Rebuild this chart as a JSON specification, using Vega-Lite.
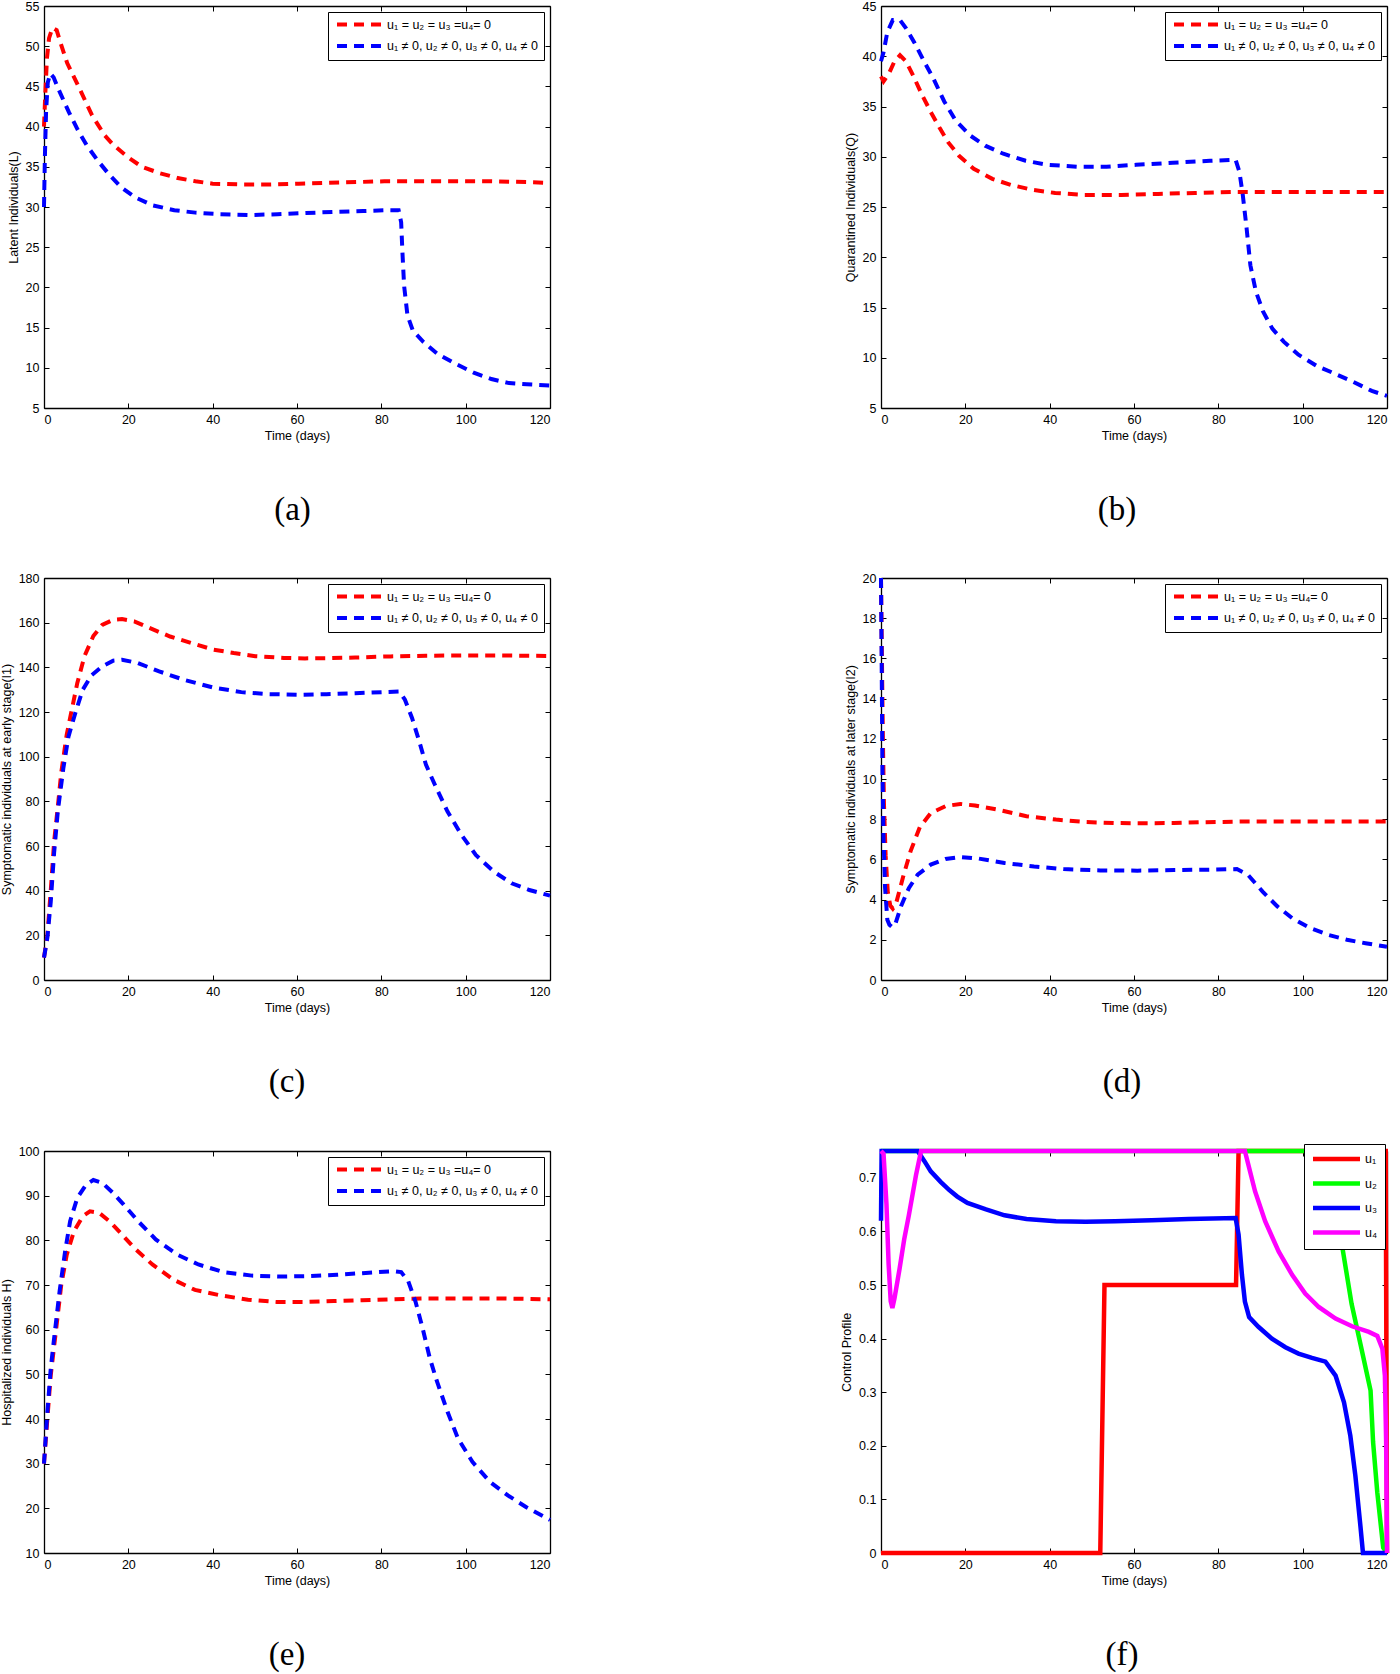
{
"$schema": "https://vega.github.io/schema/vega-lite/v6.json",
"padding": {"left": 0, "top": 0, "right": 5, "bottom": 2},
"columns": 2,
"spacing": {"row": 43, "column": 282},
"resolve": {"scale": {"color": "independent"}, "legend": {"color": "independent"}},
"config": {
  "font": "Liberation Sans",
  "view": {"stroke": null},
  "axis": {"grid": false, "domainColor": "black", "domainWidth": 1.3, "tickColor": "black", "tickSize": -5, "tickWidth": 1, "labelFont": "Liberation Sans", "labelFontSize": 12.5, "labelColor": "black", "labelPadding": 10, "titleFont": "Liberation Sans", "titleFontSize": 12.5, "titleFontWeight": "normal", "titleColor": "black"},
  "axisX": {"titlePadding": 4},
  "axisY": {"titlePadding": 5},
  "legend": {"labelFont": "Liberation Sans", "labelFontSize": 12.5, "labelColor": "black", "strokeColor": "black", "fillColor": "white"},
  "title": {"font": "Liberation Serif", "fontSize": 33, "fontWeight": "normal", "color": "black"}
},
"datasets": {
"L": [
{"t":0,"s":"off","v":40},{"t":0.3,"s":"off","v":44},{"t":0.7,"s":"off","v":48.5},{"t":1.2,"s":"off","v":51},{"t":2,"s":"off","v":52.3},{"t":3,"s":"off","v":52},{"t":4,"s":"off","v":50.3},{"t":5.5,"s":"off","v":47.9},{"t":8,"s":"off","v":45.2},{"t":11.4,"s":"off","v":41.4},{"t":14.4,"s":"off","v":38.9},{"t":16.5,"s":"off","v":37.7},{"t":19.9,"s":"off","v":36.2},{"t":23.2,"s":"off","v":35.0},{"t":27.5,"s":"off","v":34.2},{"t":31.7,"s":"off","v":33.6},{"t":35.9,"s":"off","v":33.2},{"t":40,"s":"off","v":32.9},{"t":46.9,"s":"off","v":32.8},{"t":53.7,"s":"off","v":32.8},{"t":60.4,"s":"off","v":32.9},{"t":67.2,"s":"off","v":33.0},{"t":74,"s":"off","v":33.1},{"t":80.7,"s":"off","v":33.2},{"t":89.2,"s":"off","v":33.2},{"t":97.6,"s":"off","v":33.2},{"t":106,"s":"off","v":33.2},{"t":114.5,"s":"off","v":33.1},{"t":120,"s":"off","v":33.0},
{"t":0,"s":"on","v":30},{"t":0.2,"s":"on","v":36},{"t":0.5,"s":"on","v":42},{"t":0.9,"s":"on","v":45.5},{"t":1.5,"s":"on","v":46.6},{"t":2.3,"s":"on","v":46.1},{"t":3.4,"s":"on","v":44.7},{"t":5.9,"s":"on","v":41.8},{"t":8,"s":"on","v":39.6},{"t":10.1,"s":"on","v":37.7},{"t":12.7,"s":"on","v":35.8},{"t":15.2,"s":"on","v":34.2},{"t":18.2,"s":"on","v":32.5},{"t":21.6,"s":"on","v":31.2},{"t":25.8,"s":"on","v":30.2},{"t":30.9,"s":"on","v":29.6},{"t":35.9,"s":"on","v":29.3},{"t":41.8,"s":"on","v":29.1},{"t":48.6,"s":"on","v":29.0},{"t":55.4,"s":"on","v":29.1},{"t":62.1,"s":"on","v":29.25},{"t":68.9,"s":"on","v":29.4},{"t":75.7,"s":"on","v":29.5},{"t":81.6,"s":"on","v":29.6},{"t":84.1,"s":"on","v":29.6},{"t":84.7,"s":"on","v":28.1},{"t":85,"s":"on","v":24.4},{"t":85.4,"s":"on","v":20.2},{"t":86.2,"s":"on","v":16.5},{"t":87.5,"s":"on","v":14.6},{"t":90,"s":"on","v":13.2},{"t":93.4,"s":"on","v":11.7},{"t":97.6,"s":"on","v":10.5},{"t":101.9,"s":"on","v":9.4},{"t":106.1,"s":"on","v":8.6},{"t":110.3,"s":"on","v":8.1},{"t":114.5,"s":"on","v":7.95},{"t":120,"s":"on","v":7.8}
],
"Q": [
{"t":0,"s":"off","v":38},{"t":0.6,"s":"off","v":37.5},{"t":1.9,"s":"off","v":38.3},{"t":3.2,"s":"off","v":39.5},{"t":4.5,"s":"off","v":40.1},{"t":5.9,"s":"off","v":39.5},{"t":7.6,"s":"off","v":38.1},{"t":9.8,"s":"off","v":36.1},{"t":12,"s":"off","v":34.3},{"t":14,"s":"off","v":32.8},{"t":16,"s":"off","v":31.4},{"t":18.5,"s":"off","v":30.1},{"t":22,"s":"off","v":28.8},{"t":26.4,"s":"off","v":27.8},{"t":30.8,"s":"off","v":27.2},{"t":36,"s":"off","v":26.7},{"t":41.3,"s":"off","v":26.4},{"t":48.3,"s":"off","v":26.2},{"t":57,"s":"off","v":26.2},{"t":65.7,"s":"off","v":26.3},{"t":74.5,"s":"off","v":26.4},{"t":83.2,"s":"off","v":26.5},{"t":92,"s":"off","v":26.5},{"t":100.7,"s":"off","v":26.5},{"t":109.5,"s":"off","v":26.5},{"t":120,"s":"off","v":26.5},
{"t":0,"s":"on","v":39.5},{"t":0.6,"s":"on","v":40.4},{"t":1.5,"s":"on","v":42.4},{"t":2.8,"s":"on","v":43.6},{"t":4.5,"s":"on","v":43.6},{"t":5.9,"s":"on","v":42.8},{"t":8,"s":"on","v":41.3},{"t":10.2,"s":"on","v":39.5},{"t":12.4,"s":"on","v":37.8},{"t":15,"s":"on","v":35.5},{"t":17.7,"s":"on","v":33.6},{"t":21.2,"s":"on","v":32.1},{"t":24.7,"s":"on","v":31.1},{"t":29,"s":"on","v":30.3},{"t":34.3,"s":"on","v":29.6},{"t":39.5,"s":"on","v":29.2},{"t":46.5,"s":"on","v":29.0},{"t":53.5,"s":"on","v":29.0},{"t":60.5,"s":"on","v":29.2},{"t":69.2,"s":"on","v":29.4},{"t":78,"s":"on","v":29.6},{"t":84.1,"s":"on","v":29.7},{"t":85,"s":"on","v":28.5},{"t":85.8,"s":"on","v":26.2},{"t":86.7,"s":"on","v":22.9},{"t":87.6,"s":"on","v":19.2},{"t":88.9,"s":"on","v":16.6},{"t":90.6,"s":"on","v":14.6},{"t":92.8,"s":"on","v":12.9},{"t":95.5,"s":"on","v":11.6},{"t":99,"s":"on","v":10.3},{"t":103.3,"s":"on","v":9.2},{"t":107.7,"s":"on","v":8.4},{"t":112,"s":"on","v":7.6},{"t":116.4,"s":"on","v":6.7},{"t":120,"s":"on","v":6.2}
],
"I1": [
{"t":0,"s":"off","v":10},{"t":0.8,"s":"off","v":20},{"t":1.6,"s":"off","v":40},{"t":2.4,"s":"off","v":62},{"t":3.3,"s":"off","v":78},{"t":4.1,"s":"off","v":93},{"t":5.4,"s":"off","v":110},{"t":6.7,"s":"off","v":122},{"t":7.9,"s":"off","v":133},{"t":9.6,"s":"off","v":145},{"t":11.7,"s":"off","v":154},{"t":13.8,"s":"off","v":159},{"t":16.4,"s":"off","v":161.3},{"t":18.5,"s":"off","v":161.6},{"t":21.4,"s":"off","v":160.6},{"t":24.8,"s":"off","v":157.8},{"t":29.9,"s":"off","v":153.8},{"t":34.9,"s":"off","v":150.9},{"t":40,"s":"off","v":148},{"t":45,"s":"off","v":146.4},{"t":50.1,"s":"off","v":145},{"t":56.9,"s":"off","v":144.2},{"t":61.9,"s":"off","v":144},{"t":67,"s":"off","v":144.1},{"t":73.8,"s":"off","v":144.4},{"t":82.2,"s":"off","v":144.9},{"t":90.6,"s":"off","v":145.2},{"t":99,"s":"off","v":145.3},{"t":107.5,"s":"off","v":145.3},{"t":120,"s":"off","v":145.1},
{"t":0,"s":"on","v":10},{"t":0.8,"s":"on","v":19},{"t":1.6,"s":"on","v":35},{"t":2.4,"s":"on","v":57},{"t":3.3,"s":"on","v":76},{"t":4.6,"s":"on","v":95},{"t":5.8,"s":"on","v":109},{"t":7.5,"s":"on","v":120},{"t":9.2,"s":"on","v":130},{"t":11.3,"s":"on","v":136.5},{"t":13.8,"s":"on","v":140.4},{"t":16.4,"s":"on","v":143},{"t":18.5,"s":"on","v":143.4},{"t":22.3,"s":"on","v":141.9},{"t":27.3,"s":"on","v":138.2},{"t":33.2,"s":"on","v":134.4},{"t":40,"s":"on","v":131},{"t":46.8,"s":"on","v":128.9},{"t":53.5,"s":"on","v":128},{"t":60.3,"s":"on","v":127.7},{"t":67,"s":"on","v":128},{"t":73.8,"s":"on","v":128.4},{"t":80.5,"s":"on","v":128.9},{"t":84.3,"s":"on","v":129.2},{"t":85.6,"s":"on","v":125.5},{"t":87.3,"s":"on","v":117.2},{"t":89,"s":"on","v":106.8},{"t":90.6,"s":"on","v":96.3},{"t":92.7,"s":"on","v":87.4},{"t":95.7,"s":"on","v":75.4},{"t":99,"s":"on","v":65},{"t":102.4,"s":"on","v":56},{"t":106.7,"s":"on","v":48.5},{"t":110.9,"s":"on","v":43.3},{"t":115.1,"s":"on","v":40.3},{"t":120,"s":"on","v":37.8}
],
"I2": [
{"t":0,"s":"off","v":20},{"t":0.25,"s":"off","v":15.5},{"t":0.45,"s":"off","v":12},{"t":0.7,"s":"off","v":8.8},{"t":1.1,"s":"off","v":6.2},{"t":1.6,"s":"off","v":4.4},{"t":2.2,"s":"off","v":3.7},{"t":2.8,"s":"off","v":3.55},{"t":3.5,"s":"off","v":3.75},{"t":4.2,"s":"off","v":4.3},{"t":5.2,"s":"off","v":5.1},{"t":7,"s":"off","v":6.4},{"t":9.2,"s":"off","v":7.6},{"t":11.8,"s":"off","v":8.3},{"t":15.3,"s":"off","v":8.65},{"t":18.8,"s":"off","v":8.76},{"t":22.3,"s":"off","v":8.68},{"t":27.5,"s":"off","v":8.48},{"t":34.5,"s":"off","v":8.15},{"t":41.5,"s":"off","v":7.98},{"t":48.5,"s":"off","v":7.86},{"t":55.5,"s":"off","v":7.81},{"t":62.5,"s":"off","v":7.8},{"t":69.5,"s":"off","v":7.81},{"t":76.5,"s":"off","v":7.85},{"t":85.2,"s":"off","v":7.88},{"t":94,"s":"off","v":7.88},{"t":102.7,"s":"off","v":7.88},{"t":111.5,"s":"off","v":7.88},{"t":120,"s":"off","v":7.88},
{"t":0,"s":"on","v":20},{"t":0.17,"s":"on","v":15.4},{"t":0.35,"s":"on","v":10.4},{"t":0.6,"s":"on","v":7.1},{"t":0.96,"s":"on","v":4.6},{"t":1.5,"s":"on","v":3.0},{"t":2.0,"s":"on","v":2.75},{"t":2.7,"s":"on","v":2.62},{"t":3.5,"s":"on","v":2.85},{"t":4.8,"s":"on","v":3.7},{"t":6.6,"s":"on","v":4.57},{"t":8.7,"s":"on","v":5.24},{"t":11.8,"s":"on","v":5.74},{"t":15.3,"s":"on","v":6.02},{"t":18.8,"s":"on","v":6.12},{"t":23.2,"s":"on","v":6.04},{"t":29.3,"s":"on","v":5.82},{"t":36.3,"s":"on","v":5.65},{"t":43.3,"s":"on","v":5.52},{"t":52,"s":"on","v":5.45},{"t":60.8,"s":"on","v":5.44},{"t":69.5,"s":"on","v":5.47},{"t":78.2,"s":"on","v":5.49},{"t":84.4,"s":"on","v":5.52},{"t":87,"s":"on","v":5.24},{"t":90.5,"s":"on","v":4.4},{"t":94,"s":"on","v":3.66},{"t":97.5,"s":"on","v":3.08},{"t":101.8,"s":"on","v":2.58},{"t":106.2,"s":"on","v":2.24},{"t":110.5,"s":"on","v":2.0},{"t":114.9,"s":"on","v":1.83},{"t":120,"s":"on","v":1.65}
],
"H": [
{"t":0,"s":"off","v":30},{"t":0.8,"s":"off","v":40.1},{"t":1.6,"s":"off","v":49.8},{"t":2.9,"s":"off","v":60.3},{"t":4.1,"s":"off","v":70.1},{"t":5.4,"s":"off","v":76.8},{"t":7.1,"s":"off","v":82},{"t":9.2,"s":"off","v":85.4},{"t":10.9,"s":"off","v":86.5},{"t":13,"s":"off","v":86.2},{"t":15.5,"s":"off","v":84.3},{"t":18.1,"s":"off","v":81.7},{"t":21.4,"s":"off","v":78.3},{"t":25.7,"s":"off","v":74.6},{"t":30.7,"s":"off","v":71.2},{"t":35.8,"s":"off","v":68.9},{"t":41.7,"s":"off","v":67.7},{"t":48.4,"s":"off","v":66.7},{"t":55.2,"s":"off","v":66.2},{"t":61.9,"s":"off","v":66.2},{"t":68.7,"s":"off","v":66.4},{"t":75.4,"s":"off","v":66.6},{"t":82.2,"s":"off","v":66.8},{"t":90.6,"s":"off","v":67},{"t":99.1,"s":"off","v":67},{"t":107.5,"s":"off","v":67},{"t":120,"s":"off","v":66.8},
{"t":0,"s":"on","v":30},{"t":0.8,"s":"on","v":41.6},{"t":1.6,"s":"on","v":51.3},{"t":2.4,"s":"on","v":58.1},{"t":3.7,"s":"on","v":68.6},{"t":5,"s":"on","v":77.5},{"t":6.2,"s":"on","v":84.3},{"t":7.9,"s":"on","v":89.5},{"t":10,"s":"on","v":92.5},{"t":11.7,"s":"on","v":93.5},{"t":13.8,"s":"on","v":92.9},{"t":16.4,"s":"on","v":90.6},{"t":18.9,"s":"on","v":88},{"t":22.3,"s":"on","v":84.3},{"t":26.5,"s":"on","v":80.2},{"t":31.6,"s":"on","v":76.8},{"t":36.6,"s":"on","v":74.6},{"t":42.5,"s":"on","v":72.9},{"t":49.3,"s":"on","v":72.1},{"t":56,"s":"on","v":71.9},{"t":62.8,"s":"on","v":72},{"t":69.5,"s":"on","v":72.3},{"t":76.3,"s":"on","v":72.7},{"t":83,"s":"on","v":73.1},{"t":84.7,"s":"on","v":72.9},{"t":86.4,"s":"on","v":70.8},{"t":88.1,"s":"on","v":66.3},{"t":89.8,"s":"on","v":60.3},{"t":91.5,"s":"on","v":53.6},{"t":93.2,"s":"on","v":48.4},{"t":95.7,"s":"on","v":41.6},{"t":98.2,"s":"on","v":35.6},{"t":101.6,"s":"on","v":30.4},{"t":105.8,"s":"on","v":25.9},{"t":110,"s":"on","v":22.9},{"t":114.3,"s":"on","v":20.3},{"t":120,"s":"on","v":17.4}
],
"U": [
{"t":0,"u":"u₁","v":0},{"t":52,"u":"u₁","v":0},{"t":53,"u":"u₁","v":0.5},{"t":84.2,"u":"u₁","v":0.5},{"t":84.8,"u":"u₁","v":0.75},{"t":119.7,"u":"u₁","v":0.75},{"t":120,"u":"u₁","v":0},
{"t":0,"u":"u₂","v":0.75},{"t":106,"u":"u₂","v":0.75},{"t":109,"u":"u₂","v":0.59},{"t":111.6,"u":"u₂","v":0.465},{"t":113.7,"u":"u₂","v":0.39},{"t":116.1,"u":"u₂","v":0.303},{"t":116.7,"u":"u₂","v":0.207},{"t":117.7,"u":"u₂","v":0.113},{"t":119.1,"u":"u₂","v":0.01},{"t":120,"u":"u₂","v":0},
{"t":0,"u":"u₃","v":0.62},{"t":0.15,"u":"u₃","v":0.75},{"t":8.7,"u":"u₃","v":0.75},{"t":10.3,"u":"u₃","v":0.731},{"t":11.8,"u":"u₃","v":0.712},{"t":14.2,"u":"u₃","v":0.692},{"t":16.2,"u":"u₃","v":0.677},{"t":18.1,"u":"u₃","v":0.665},{"t":20.5,"u":"u₃","v":0.653},{"t":24.9,"u":"u₃","v":0.641},{"t":29.3,"u":"u₃","v":0.630},{"t":34.5,"u":"u₃","v":0.623},{"t":41.5,"u":"u₃","v":0.619},{"t":48.5,"u":"u₃","v":0.618},{"t":55.5,"u":"u₃","v":0.619},{"t":64.2,"u":"u₃","v":0.621},{"t":73,"u":"u₃","v":0.623},{"t":84.1,"u":"u₃","v":0.625},{"t":84.8,"u":"u₃","v":0.594},{"t":85.6,"u":"u₃","v":0.519},{"t":86.3,"u":"u₃","v":0.469},{"t":87.3,"u":"u₃","v":0.44},{"t":89.5,"u":"u₃","v":0.422},{"t":92.7,"u":"u₃","v":0.4},{"t":95.9,"u":"u₃","v":0.384},{"t":99,"u":"u₃","v":0.372},{"t":102.2,"u":"u₃","v":0.364},{"t":105.4,"u":"u₃","v":0.357},{"t":107.8,"u":"u₃","v":0.331},{"t":109.8,"u":"u₃","v":0.281},{"t":111.3,"u":"u₃","v":0.219},{"t":112.5,"u":"u₃","v":0.144},{"t":113.7,"u":"u₃","v":0.05},{"t":114.3,"u":"u₃","v":0},{"t":120,"u":"u₃","v":0},
{"t":0,"u":"u₄","v":0.75},{"t":0.6,"u":"u₄","v":0.745},{"t":1.3,"u":"u₄","v":0.65},{"t":1.8,"u":"u₄","v":0.54},{"t":2.3,"u":"u₄","v":0.47},{"t":2.7,"u":"u₄","v":0.457},{"t":3.2,"u":"u₄","v":0.475},{"t":4.4,"u":"u₄","v":0.53},{"t":5.5,"u":"u₄","v":0.585},{"t":6.6,"u":"u₄","v":0.63},{"t":8.3,"u":"u₄","v":0.705},{"t":9.5,"u":"u₄","v":0.75},{"t":86.3,"u":"u₄","v":0.75},{"t":88.7,"u":"u₄","v":0.675},{"t":91.1,"u":"u₄","v":0.619},{"t":94.3,"u":"u₄","v":0.5625},{"t":97.5,"u":"u₄","v":0.519},{"t":100.6,"u":"u₄","v":0.484},{"t":103.8,"u":"u₄","v":0.459},{"t":107.8,"u":"u₄","v":0.4375},{"t":111.7,"u":"u₄","v":0.423},{"t":115.7,"u":"u₄","v":0.4125},{"t":117.7,"u":"u₄","v":0.405},{"t":118.9,"u":"u₄","v":0.381},{"t":119.5,"u":"u₄","v":0.331},{"t":119.8,"u":"u₄","v":0.206},{"t":120,"u":"u₄","v":0}
]
},
"concat": [
{"data": {"name": "L"}, "width": 506, "height": 402,
 "title": {"text": "(a)", "orient": "bottom", "anchor": "middle", "frame": "group", "offset": 51.5, "dx": -4.5},
 "layer": [
  {"mark": {"type": "line", "strokeWidth": 4, "strokeDash": [10, 7]},
   "encoding": {
    "x": {"field": "t", "type": "quantitative", "scale": {"domain": [0, 120], "nice": false}, "axis": {"title": "Time (days)", "values": [0, 20, 40, 60, 80, 100, 120]}},
    "y": {"field": "v", "type": "quantitative", "scale": {"domain": [5, 55], "nice": false, "zero": false}, "axis": {"title": "Latent Individuals(L)", "values": [5, 10, 15, 20, 25, 30, 35, 40, 45, 50, 55]}},
    "color": {"field": "s", "type": "nominal", "scale": {"domain": ["off", "on"], "range": ["#ff0000", "#0000ff"]},
     "legend": {"title": null, "orient": "top-right", "offset": 6, "padding": 5.5, "symbolType": "M-0.7,0L8.5,0", "symbolSize": 100, "symbolStrokeWidth": 4, "symbolDash": [10, 7], "labelOffset": 39.5, "rowPadding": 5.5,
      "labelExpr": "datum.value == 'off' ? 'u₁ = u₂ = u₃ =u₄= 0' : 'u₁ ≠ 0, u₂ ≠ 0, u₃ ≠ 0, u₄ ≠ 0'"}}}},
  {"mark": {"type": "point", "opacity": 0},
   "encoding": {
    "x": {"field": "t", "type": "quantitative", "axis": {"orient": "top", "labels": false, "title": null, "values": [0, 20, 40, 60, 80, 100, 120]}},
    "y": {"field": "v", "type": "quantitative", "axis": {"orient": "right", "labels": false, "title": null, "values": [5, 10, 15, 20, 25, 30, 35, 40, 45, 50, 55]}}}}
 ],
 "resolve": {"axis": {"x": "independent", "y": "independent"}}},
{"data": {"name": "Q"}, "width": 506, "height": 402,
 "title": {"text": "(b)", "orient": "bottom", "anchor": "middle", "frame": "group", "offset": 51.5, "dx": -17},
 "layer": [
  {"mark": {"type": "line", "strokeWidth": 4, "strokeDash": [10, 7]},
   "encoding": {
    "x": {"field": "t", "type": "quantitative", "scale": {"domain": [0, 120], "nice": false}, "axis": {"title": "Time (days)", "values": [0, 20, 40, 60, 80, 100, 120]}},
    "y": {"field": "v", "type": "quantitative", "scale": {"domain": [5, 45], "nice": false, "zero": false}, "axis": {"title": "Quarantined Individuals(Q)", "values": [5, 10, 15, 20, 25, 30, 35, 40, 45]}},
    "color": {"field": "s", "type": "nominal", "scale": {"domain": ["off", "on"], "range": ["#ff0000", "#0000ff"]},
     "legend": {"title": null, "orient": "top-right", "offset": 6, "padding": 5.5, "symbolType": "M-0.7,0L8.5,0", "symbolSize": 100, "symbolStrokeWidth": 4, "symbolDash": [10, 7], "labelOffset": 39.5, "rowPadding": 5.5,
      "labelExpr": "datum.value == 'off' ? 'u₁ = u₂ = u₃ =u₄= 0' : 'u₁ ≠ 0, u₂ ≠ 0, u₃ ≠ 0, u₄ ≠ 0'"}}}},
  {"mark": {"type": "point", "opacity": 0},
   "encoding": {
    "x": {"field": "t", "type": "quantitative", "axis": {"orient": "top", "labels": false, "title": null, "values": [0, 20, 40, 60, 80, 100, 120]}},
    "y": {"field": "v", "type": "quantitative", "axis": {"orient": "right", "labels": false, "title": null, "values": [5, 10, 15, 20, 25, 30, 35, 40, 45]}}}}
 ],
 "resolve": {"axis": {"x": "independent", "y": "independent"}}},
{"data": {"name": "I1"}, "width": 506, "height": 402,
 "title": {"text": "(c)", "orient": "bottom", "anchor": "middle", "frame": "group", "offset": 51.5, "dx": -10},
 "layer": [
  {"mark": {"type": "line", "strokeWidth": 4, "strokeDash": [10, 7]},
   "encoding": {
    "x": {"field": "t", "type": "quantitative", "scale": {"domain": [0, 120], "nice": false}, "axis": {"title": "Time (days)", "values": [0, 20, 40, 60, 80, 100, 120]}},
    "y": {"field": "v", "type": "quantitative", "scale": {"domain": [0, 180], "nice": false}, "axis": {"title": "Symptomatic individuals at early stage(I1)", "values": [0, 20, 40, 60, 80, 100, 120, 140, 160, 180]}},
    "color": {"field": "s", "type": "nominal", "scale": {"domain": ["off", "on"], "range": ["#ff0000", "#0000ff"]},
     "legend": {"title": null, "orient": "top-right", "offset": 6, "padding": 5.5, "symbolType": "M-0.7,0L8.5,0", "symbolSize": 100, "symbolStrokeWidth": 4, "symbolDash": [10, 7], "labelOffset": 39.5, "rowPadding": 5.5,
      "labelExpr": "datum.value == 'off' ? 'u₁ = u₂ = u₃ =u₄= 0' : 'u₁ ≠ 0, u₂ ≠ 0, u₃ ≠ 0, u₄ ≠ 0'"}}}},
  {"mark": {"type": "point", "opacity": 0},
   "encoding": {
    "x": {"field": "t", "type": "quantitative", "axis": {"orient": "top", "labels": false, "title": null, "values": [0, 20, 40, 60, 80, 100, 120]}},
    "y": {"field": "v", "type": "quantitative", "axis": {"orient": "right", "labels": false, "title": null, "values": [0, 20, 40, 60, 80, 100, 120, 140, 160, 180]}}}}
 ],
 "resolve": {"axis": {"x": "independent", "y": "independent"}}},
{"data": {"name": "I2"}, "width": 506, "height": 402,
 "title": {"text": "(d)", "orient": "bottom", "anchor": "middle", "frame": "group", "offset": 51.5, "dx": -12},
 "layer": [
  {"mark": {"type": "line", "strokeWidth": 4, "strokeDash": [10, 7]},
   "encoding": {
    "x": {"field": "t", "type": "quantitative", "scale": {"domain": [0, 120], "nice": false}, "axis": {"title": "Time (days)", "values": [0, 20, 40, 60, 80, 100, 120]}},
    "y": {"field": "v", "type": "quantitative", "scale": {"domain": [0, 20], "nice": false}, "axis": {"title": "Symptomatic individuals at later stage(I2)", "values": [0, 2, 4, 6, 8, 10, 12, 14, 16, 18, 20]}},
    "color": {"field": "s", "type": "nominal", "scale": {"domain": ["off", "on"], "range": ["#ff0000", "#0000ff"]},
     "legend": {"title": null, "orient": "top-right", "offset": 6, "padding": 5.5, "symbolType": "M-0.7,0L8.5,0", "symbolSize": 100, "symbolStrokeWidth": 4, "symbolDash": [10, 7], "labelOffset": 39.5, "rowPadding": 5.5,
      "labelExpr": "datum.value == 'off' ? 'u₁ = u₂ = u₃ =u₄= 0' : 'u₁ ≠ 0, u₂ ≠ 0, u₃ ≠ 0, u₄ ≠ 0'"}}}},
  {"mark": {"type": "point", "opacity": 0},
   "encoding": {
    "x": {"field": "t", "type": "quantitative", "axis": {"orient": "top", "labels": false, "title": null, "values": [0, 20, 40, 60, 80, 100, 120]}},
    "y": {"field": "v", "type": "quantitative", "axis": {"orient": "right", "labels": false, "title": null, "values": [0, 2, 4, 6, 8, 10, 12, 14, 16, 18, 20]}}}}
 ],
 "resolve": {"axis": {"x": "independent", "y": "independent"}}},
{"data": {"name": "H"}, "width": 506, "height": 402,
 "title": {"text": "(e)", "orient": "bottom", "anchor": "middle", "frame": "group", "offset": 51.5, "dx": -10},
 "layer": [
  {"mark": {"type": "line", "strokeWidth": 4, "strokeDash": [10, 7]},
   "encoding": {
    "x": {"field": "t", "type": "quantitative", "scale": {"domain": [0, 120], "nice": false}, "axis": {"title": "Time (days)", "values": [0, 20, 40, 60, 80, 100, 120]}},
    "y": {"field": "v", "type": "quantitative", "scale": {"domain": [10, 100], "nice": false, "zero": false}, "axis": {"title": "Hospitalized individuals H)", "values": [10, 20, 30, 40, 50, 60, 70, 80, 90, 100]}},
    "color": {"field": "s", "type": "nominal", "scale": {"domain": ["off", "on"], "range": ["#ff0000", "#0000ff"]},
     "legend": {"title": null, "orient": "top-right", "offset": 6, "padding": 5.5, "symbolType": "M-0.7,0L8.5,0", "symbolSize": 100, "symbolStrokeWidth": 4, "symbolDash": [10, 7], "labelOffset": 39.5, "rowPadding": 5.5,
      "labelExpr": "datum.value == 'off' ? 'u₁ = u₂ = u₃ =u₄= 0' : 'u₁ ≠ 0, u₂ ≠ 0, u₃ ≠ 0, u₄ ≠ 0'"}}}},
  {"mark": {"type": "point", "opacity": 0},
   "encoding": {
    "x": {"field": "t", "type": "quantitative", "axis": {"orient": "top", "labels": false, "title": null, "values": [0, 20, 40, 60, 80, 100, 120]}},
    "y": {"field": "v", "type": "quantitative", "axis": {"orient": "right", "labels": false, "title": null, "values": [10, 20, 30, 40, 50, 60, 70, 80, 90, 100]}}}}
 ],
 "resolve": {"axis": {"x": "independent", "y": "independent"}}},
{"data": {"name": "U"}, "width": 506, "height": 402,
 "title": {"text": "(f)", "orient": "bottom", "anchor": "middle", "frame": "group", "offset": 51.5, "dx": -12},
 "layer": [
  {"mark": {"type": "line", "strokeWidth": 4.5},
   "encoding": {
    "x": {"field": "t", "type": "quantitative", "scale": {"domain": [0, 120], "nice": false}, "axis": {"title": "Time (days)", "values": [0, 20, 40, 60, 80, 100, 120]}},
    "y": {"field": "v", "type": "quantitative", "scale": {"domain": [0, 0.75], "nice": false}, "axis": {"title": "Control Profile", "format": "~g", "values": [0, 0.1, 0.2, 0.3, 0.4, 0.5, 0.6, 0.7]}},
    "color": {"field": "u", "type": "nominal", "scale": {"domain": ["u₁", "u₂", "u₃", "u₄"], "range": ["#ff0000", "#00ff00", "#0000ff", "#ff00ff"]},
     "legend": {"title": null, "orient": "none", "legendX": 423, "legendY": -7, "padding": 7.5, "symbolType": "M-1.2,0L8.2,0", "symbolSize": 100, "symbolStrokeWidth": 4.5, "labelOffset": 38.5, "rowPadding": 5.5}}}},
  {"mark": {"type": "point", "opacity": 0},
   "encoding": {
    "x": {"field": "t", "type": "quantitative", "axis": {"orient": "top", "labels": false, "title": null, "values": [0, 20, 40, 60, 80, 100, 120]}},
    "y": {"field": "v", "type": "quantitative", "axis": {"orient": "right", "labels": false, "title": null, "values": [0, 0.1, 0.2, 0.3, 0.4, 0.5, 0.6, 0.7]}}}}
 ],
 "resolve": {"axis": {"x": "independent", "y": "independent"}}}
]
}
